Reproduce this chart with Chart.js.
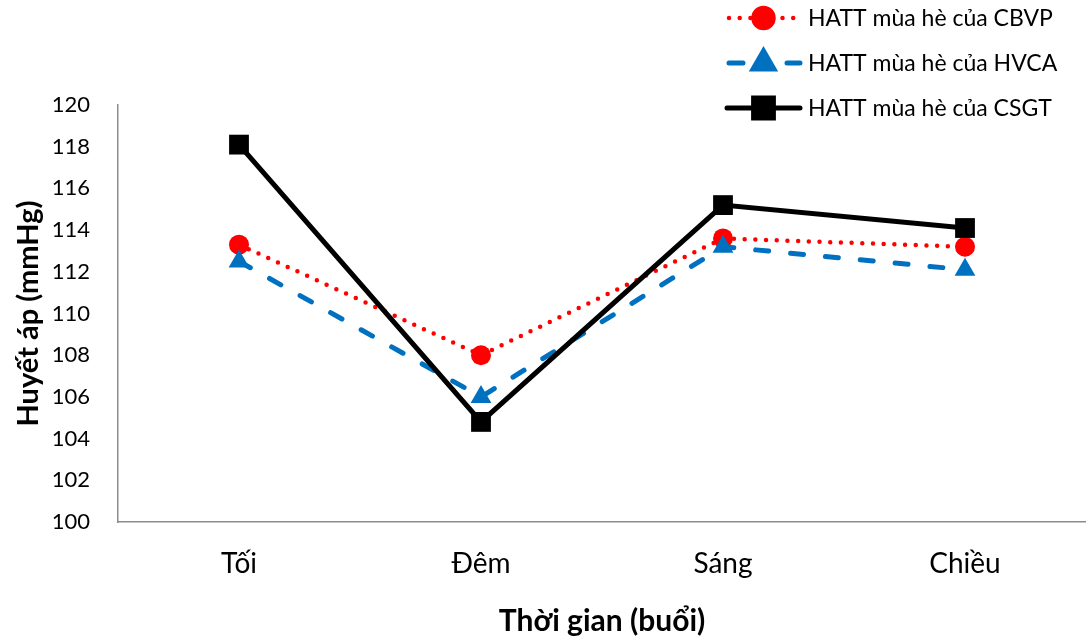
<!DOCTYPE html>
<html>
<head>
<meta charset="utf-8">
<script src="https://cdn.jsdelivr.net/npm/chart.js@4/dist/chart.umd.min.js"></script>
<style>
  html, body { margin: 0; padding: 0; background: #fff; }
  #wrap { width: 1086px; height: 639px; position: relative; }
</style>
</head>
<body>
<div id="wrap"><canvas id="c" width="1086" height="639"></canvas></div>
<script>
// Time of day (session)
const categories = ['Tối', 'Đêm', 'Sáng', 'Chiều'];

// Summer systolic blood pressure (mmHg) by group
const cbvpValues = [113.3, 108.0, 113.6, 113.2];
const hvcaValues = [112.5, 106.0, 113.2, 112.1];
const csgtValues = [118.1, 104.8, 115.2, 114.1];

const seriesLabels = ['HATT mùa hè của CBVP', 'HATT mùa hè của HVCA', 'HATT mùa hè của CSGT'];

const yMin = 100, yMax = 120, yStep = 2;

const FONT = 'Lato, "Open Sans", "Liberation Sans", sans-serif';

// Legend drawn as line-with-marker samples in the upper right corner
const lineLegend = {
  id: 'lineLegend',
  afterDraw(chart) {
    const ctx = chart.ctx;
    const x0 = 727, x1 = 800, textX = 808;
    const rows = [18, 63, 108];
    chart.data.datasets.forEach((ds, i) => {
      const y = rows[i];
      ctx.save();
      ctx.strokeStyle = ds.borderColor;
      ctx.lineWidth = ds.borderWidth;
      ctx.lineCap = ds.borderCapStyle || 'butt';
      ctx.setLineDash(ds.legendDash || []);
      ctx.beginPath();
      ctx.moveTo(x0 + (ds.legendInset || 0), y);
      ctx.lineTo(x1, y);
      ctx.stroke();
      ctx.setLineDash([]);
      Chart.helpers.drawPoint(ctx, {
        pointStyle: ds.pointStyle,
        radius: ds.pointRadius,
        borderWidth: 1
      }, (x0 + x1) / 2, y);
      ctx.fillStyle = ds.pointBackgroundColor;
      ctx.fill();
      ctx.fillStyle = '#000';
      ctx.font = '23px ' + FONT;
      ctx.textBaseline = 'middle';
      ctx.textAlign = 'left';
      ctx.fillText(ds.label, textX, y + 1);
      ctx.restore();
    });
  }
};

new Chart(document.getElementById('c'), {
  type: 'line',
  data: {
    labels: categories,
    datasets: [
      {
        label: seriesLabels[0],
        data: cbvpValues,
        borderColor: '#ff0000',
        backgroundColor: '#ff0000',
        borderWidth: 4.5,
        borderDash: [0, 10.7],
        legendDash: [0, 10.7],
        legendInset: 2,
        borderCapStyle: 'round',
        pointStyle: 'circle',
        pointRadius: 10,
        pointBackgroundColor: '#ff0000',
        pointBorderColor: '#ff0000',
        pointBorderWidth: 0,
        order: 3
      },
      {
        label: seriesLabels[1],
        data: hvcaValues,
        borderColor: '#0070c0',
        backgroundColor: '#0070c0',
        borderWidth: 5,
        borderDash: [13, 22],
        legendDash: [14, 44],
        legendInset: 2,
        borderCapStyle: 'round',
        pointStyle: 'triangle',
        pointRadius: 12,
        pointBackgroundColor: '#0070c0',
        pointBorderColor: '#0070c0',
        pointBorderWidth: 0,
        order: 2
      },
      {
        label: seriesLabels[2],
        data: csgtValues,
        borderColor: '#000000',
        backgroundColor: '#000000',
        borderWidth: 5,
        borderCapStyle: 'round',
        pointStyle: 'rect',
        pointRadius: 14,
        pointBackgroundColor: '#000000',
        pointBorderColor: '#000000',
        pointBorderWidth: 0,
        order: 1
      }
    ]
  },
  options: {
    responsive: false,
    animation: false,
    devicePixelRatio: 1,
    layout: { autoPadding: false, padding: { top: 105, right: 0, left: 0, bottom: 0 } },
    plugins: {
      legend: { display: false },
      tooltip: { enabled: false }
    },
    elements: { line: { tension: 0 } },
    scales: {
      x: {
        offset: true,
        grid: { display: false },
        border: { display: true, color: '#8c8c8c', width: 1.5 },
        ticks: {
          color: '#000',
          font: { family: FONT, size: 28 },
          padding: 17
        },
        title: {
          display: true,
          text: 'Thời gian (buổi)',
          color: '#000',
          font: { family: FONT, size: 30, weight: 'bold' },
          padding: { top: 0, bottom: 0 }
        },
        afterFit(scale) { scale.height = 117; }
      },
      y: {
        min: yMin,
        max: yMax,
        grid: { display: false },
        border: { display: true, color: '#8c8c8c', width: 1.5 },
        ticks: {
          stepSize: yStep,
          color: '#000',
          font: { family: FONT, size: 22 },
          padding: 20
        },
        title: {
          display: true,
          text: 'Huyết áp (mmHg)',
          color: '#000',
          font: { family: FONT, size: 29, weight: 'bold' },
          padding: { top: 11, bottom: 0 }
        },
        afterFit(scale) { scale.width = 118; }
      }
    }
  },
  plugins: [lineLegend]
});
</script>
</body>
</html>
